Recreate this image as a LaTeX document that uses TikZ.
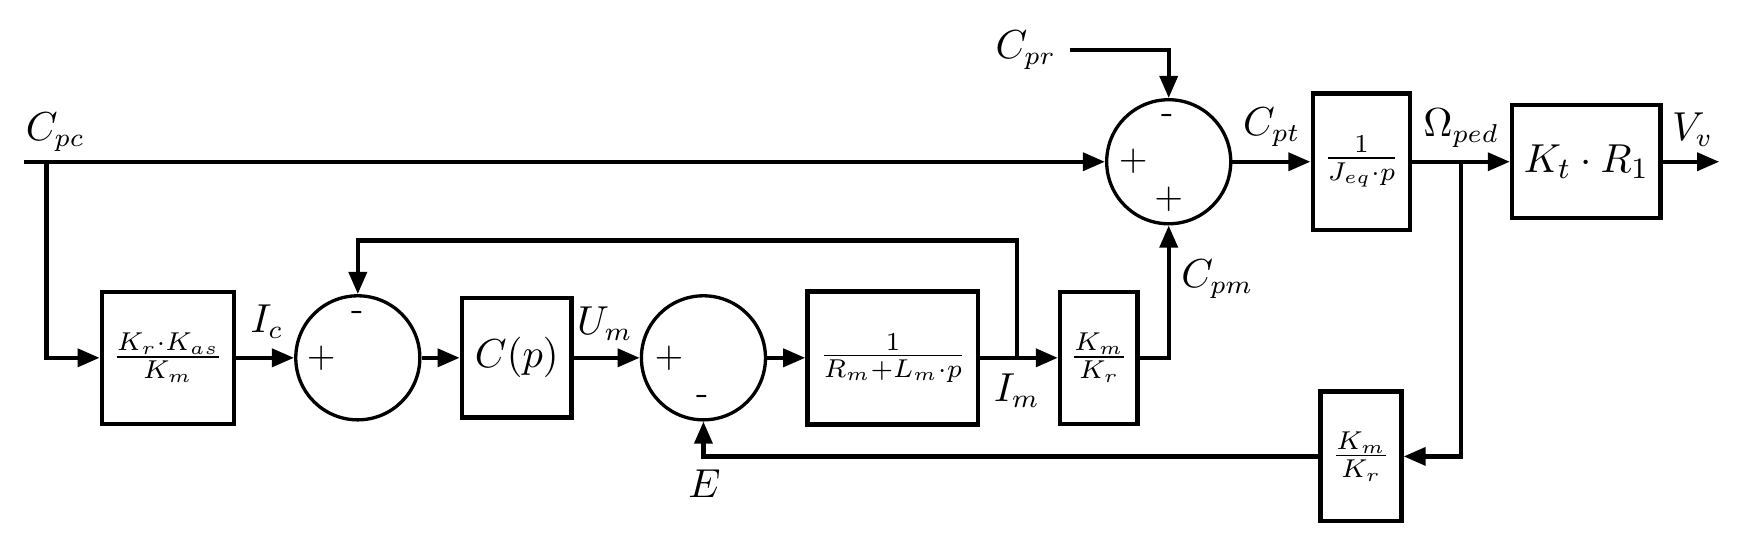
\documentclass[tikz,border=0pt]{standalone}
\usetikzlibrary{arrows.meta}
\begin{document}
\begin{tikzpicture}[x=0.3pt,y=-0.3pt,
  blk/.style={draw,line width=1.2pt,inner sep=0pt,fill=white},
  sumc/.style={draw,circle,line width=0.9pt,minimum size=33.6pt,inner sep=0pt},
  conn/.style={line width=1.2pt},
  arr/.style={line width=1.2pt,-{Triangle[length=6pt,width=4.8pt]}},
  lbl/.style={inner sep=0pt,font=\fontsize{10.5}{12}\selectfont},
  sgn/.style={inner sep=0pt,font=\fontsize{10}{12}\selectfont},
  big/.style={font=\fontsize{11}{13}\selectfont}]
\useasboundingbox (0,0) rectangle (1568,486);
% blocks
\node[blk,minimum width=35.7pt,minimum height=35.7pt] (b1) at (151.5,323) {$\frac{K_r\cdot K_{as}}{K_m}$};
\node[blk,big,minimum width=29.7pt,minimum height=32.4pt] (b2) at (466.5,323) {$C(p)$};
\node[blk,minimum width=46.2pt,minimum height=36pt] (b3) at (806,323) {$\frac{1}{R_m+L_m\cdot p}$};
\node[blk,minimum width=21pt,minimum height=35.7pt] (b4) at (992,323) {$\frac{K_m}{K_r}$};
\node[blk,minimum width=26.4pt,minimum height=36.9pt] (b5) at (1229,146) {$\frac{1}{J_{eq}\cdot p}$};
\node[blk,minimum width=21.9pt,minimum height=35.1pt] (b6) at (1228.5,412) {$\frac{K_m}{K_r}$};
\node[blk,big,minimum width=40.2pt,minimum height=30.6pt] (b7) at (1432,146) {$K_t\cdot R_1$};
% summing junctions
\node[sumc] (s1) at (323,323) {};
\node[sumc] (s2) at (635,323) {};
\node[sumc] (s3) at (1055,146) {};
% signs
\node[sgn] (s1m) at (323,285) {-};
\node[sgn] (s1p) at (290,323) {$+$};
\node[sgn] (s2p) at (604,323) {$+$};
\node[sgn] (s2m) at (634,361) {-};
\node[sgn] (s3m) at (1054,107) {-};
\node[sgn] (s3p) at (1023,146) {$+$};
\node[sgn] (s3q) at (1055,180) {$+$};
% coordinates
\coordinate (in) at (22,146);
\coordinate (br1) at (42,146);
\coordinate (br2) at (918,323);
\coordinate (fbt) at (918,217);
\coordinate (cpr) at (966,45);
\coordinate (br3) at (1319,146);
\coordinate (out) at (1552,146);
% connectors
\draw[arr] (in) -- (s3.west);
\draw[arr] (br1) |- (b1.west);
\draw[arr] (b1.east) -- (s1.west);
\draw[arr] (s1.east) -- (b2.west);
\draw[arr] (b2.east) -- (s2.west);
\draw[arr] (s2.east) -- (b3.west);
\draw[arr] (b3.east) -- (b4.west);
\draw[arr] (br2) -- (fbt) -| (s1.north);
\draw[arr] (b4.east) -| (s3.south);
\draw[arr] (cpr) -| (s3.north);
\draw[arr] (s3.east) -- (b5.west);
\draw[arr] (b5.east) -- (b7.west);
\draw[arr] (b7.east) -- (out);
\draw[arr] (br3) |- (b6.east);
\draw[arr] (b6.west) -| (s2.south);
% labels
\node[lbl] (lcpc) at (50,119) {$C_{pc}$};
\node[lbl] (lcpr) at (926,45) {$C_{pr}$};
\node[lbl] (lcpt) at (1148,115) {$C_{pt}$};
\node[lbl] (lom) at (1319,116) {$\Omega_{ped}$};
\node[lbl] (lvv) at (1528,117) {$V_v$};
\node[lbl] (lcpm) at (1099,252) {$C_{pm}$};
\node[lbl] (lic) at (241,290) {$I_c$};
\node[lbl] (lum) at (546,292) {$U_m$};
\node[lbl] (lim) at (918,353) {$I_m$};
\node[lbl] (le) at (636,437) {$E$};
\end{tikzpicture}
\end{document}
